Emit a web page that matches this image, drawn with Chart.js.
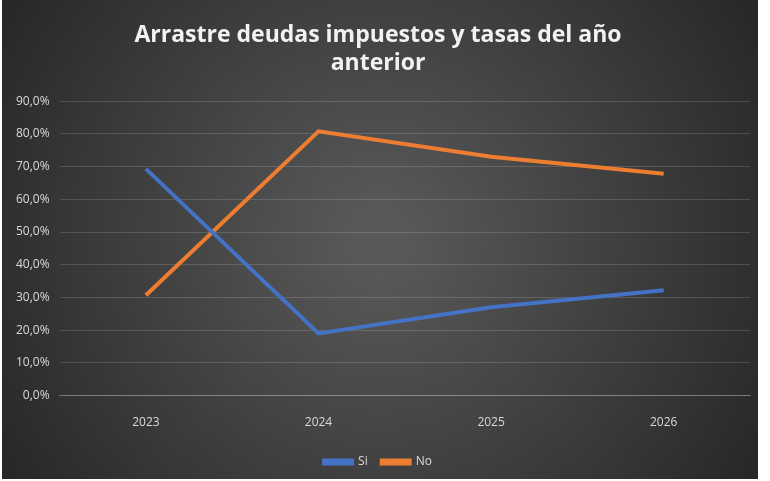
<!DOCTYPE html>
<html>
<head>
<meta charset="utf-8">
<script src="https://cdn.jsdelivr.net/npm/chart.js@4/dist/chart.umd.min.js"></script>
<style>
  html, body { margin: 0; padding: 0; background: #fff; }
  #wrap { position: absolute; left: 2px; top: 0; width: 756px; height: 479px; }
</style>
</head>
<body>
<div id="wrap"><canvas id="chart"></canvas></div>
<script>
// Chart data
const categories = ["2023", "2024", "2025", "2026"];
const siValues = [69.3, 19.0, 27.0, 32.2];
const noValues = [30.7, 80.8, 73.0, 67.8];
const yTicks = [0, 10, 20, 30, 40, 50, 60, 70, 80, 90];

// Dark radial background, like the Excel style
const background = {
  id: "background",
  beforeDraw: (chart) => {
    const { ctx, width, height } = chart;
    const g = ctx.createRadialGradient(width / 2, height / 2, 20, width / 2, height / 2, width * 0.6);
    g.addColorStop(0, "#595959");
    g.addColorStop(1, "#262626");
    ctx.save();
    ctx.fillStyle = g;
    ctx.fillRect(0, 0, width, height);
    ctx.restore();
  },
};

const fmt = (v) => v.toFixed(1).replace(".", ",") + "%";

new Chart(document.getElementById("chart"), {
  type: "line",
  data: {
    labels: categories,
    datasets: [
      { label: "Si", data: siValues, borderColor: "#4472c4", backgroundColor: "#4472c4", borderWidth: 4, pointRadius: 0, tension: 0 },
      { label: "No", data: noValues, borderColor: "#ed7d31", backgroundColor: "#ed7d31", borderWidth: 4, pointRadius: 0, tension: 0 },
    ],
  },
  options: {
    responsive: true,
    maintainAspectRatio: false,
    animation: false,
    layout: { padding: { left: 4, right: 8, top: 8, bottom: 1 } },
    plugins: {
      title: {
        display: true,
        text: ["Arrastre deudas impuestos y tasas del año", "anterior"],
        color: "#f2f2f2",
        font: { family: "Open Sans", size: 23, weight: "bold" },
        lineHeight: 1.45,
        padding: { top: 14, bottom: 24 },
      },
      legend: {
        position: "bottom",
        labels: {
          color: "#d9d9d9",
          font: { family: "Open Sans", size: 12 },
          boxWidth: 28,
          boxHeight: 3,
          padding: 14,
        },
      },
      tooltip: { enabled: false },
    },
    scales: {
      x: {
        offset: true,
        grid: { display: false },
        border: { color: "rgba(255,255,255,0.25)" },
        ticks: { color: "#d9d9d9", font: { family: "Open Sans", size: 12 }, padding: 12 },
      },
      y: {
        min: 0,
        max: 90,
        afterBuildTicks: (axis) => { axis.ticks = yTicks.map((v) => ({ value: v })); },
        grid: { color: "rgba(255,255,255,0.15)", drawTicks: false },
        border: { display: false },
        ticks: { color: "#d9d9d9", font: { family: "Open Sans", size: 12 }, padding: 10, callback: (v) => fmt(v) },
      },
    },
  },
  plugins: [background],
});
</script>
</body>
</html>
